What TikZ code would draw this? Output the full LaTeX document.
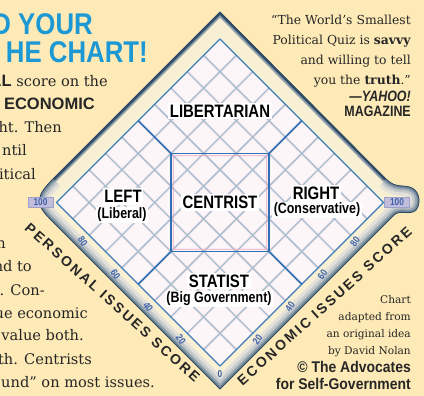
\documentclass[tikz,border=0pt]{standalone}
\usepackage{fontspec}
\setmainfont{DejaVu Serif}
\newfontfamily\condsans[FakeStretch=0.83]{Liberation Sans}
\newfontfamily\titlesans[FakeStretch=0.86]{Liberation Sans}
\newfontfamily\credsans[FakeStretch=0.9]{Liberation Sans}
\newfontfamily\plainsans{Liberation Sans}
\newfontfamily\axissans[LetterSpace=17]{Liberation Sans}
\newcommand{\myfs}[1]{\fontsize{#1}{#1}\selectfont}
\definecolor{bgc}{HTML}{FDEAB7}
\definecolor{cream}{HTML}{F8F0D4}
\definecolor{gridbg}{HTML}{FCF6F8}
\definecolor{gridc}{HTML}{A2BECE}
\definecolor{halo}{HTML}{F6E3EB}
\definecolor{gedge}{HTML}{3F7DB6}
\definecolor{divblue}{HTML}{2F6FB3}
\definecolor{pinkl}{HTML}{E8A3C0}
\definecolor{navy}{HTML}{2E4A64}
\definecolor{titleblue}{HTML}{1C98D5}
\definecolor{txt}{HTML}{262626}
\definecolor{numblue}{HTML}{3C62AA}
\definecolor{lav}{HTML}{C3BCDA}
\definecolor{bevA}{HTML}{E2E0D8}
\definecolor{bevB}{HTML}{C4C9CC}
\definecolor{bevC}{HTML}{9CA9B4}
\definecolor{bevD}{HTML}{6D8294}
\begin{document}
\begin{tikzpicture}[x=1pt,y=-1pt, line join=round,
  body/.style={font=\myfs{14.6}, text=txt, inner sep=0pt, anchor=base east},
  quote/.style={font=\myfs{12.4}, text=txt, inner sep=0pt, anchor=base east},
  cred/.style={font=\myfs{10.6}, text=txt, inner sep=0pt, anchor=base east},
  credb/.style={font=\credsans\bfseries\myfs{15.5}, text=txt, inner sep=0pt, anchor=base east},
  magb/.style={font=\condsans\bfseries\myfs{15}, text=txt, inner sep=0pt, anchor=base east},
  titl/.style={font=\titlesans\bfseries\myfs{30}, text=titleblue, inner sep=0pt, anchor=base east},
  mainlab/.style={font=\condsans\bfseries\myfs{18}, text=black, fill=white, inner xsep=1.5pt, inner ysep=2pt},
  sublab/.style={font=\condsans\bfseries\myfs{15}, text=black, fill=white, inner xsep=1.5pt, inner ysep=1pt},
  axislab/.style={font=\axissans\bfseries\myfs{14}, text=txt, inner sep=0pt},
  numlab/.style={font=\condsans\bfseries\myfs{10}, text=numblue, inner sep=0.3pt},
  hundred/.style={numlab, fill=lav, draw=lav!70!numblue, line width=0.4pt, minimum width=25pt, minimum height=10pt, inner sep=0pt},
  gridline/.style={line width=1.2pt, draw=gridc},
  gridhalo/.style={line width=2.6pt, draw=halo},
  gedgest/.style={line width=1.4pt, draw=gedge},
  divline/.style={line width=1.6pt, draw=divblue},
  sqpink/.style={line width=0.9pt, draw=pinkl}
]
\fill[bgc] (0,0) rectangle (424,396);
\useasboundingbox (0,0) rectangle (424,396);
\clip (0,0) rectangle (424,396);

% ---- frame ----
\fill[cream] (220,12) -- (53,179) .. controls (37,195) and (34,203) .. (50,219) -- (220,389) -- (394,215) .. controls (400,209) and (410,216) .. (416,210) .. controls (421,204) and (420,192) .. (412,188) .. controls (404,184) and (396,189) .. (386,179) -- cycle;
\begin{scope}
  \clip (220,12) -- (53,179) .. controls (37,195) and (34,203) .. (50,219) -- (220,389) -- (394,215) .. controls (400,209) and (410,216) .. (416,210) .. controls (421,204) and (420,192) .. (412,188) .. controls (404,184) and (396,189) .. (386,179) -- cycle;
  \draw[line width=20pt, bevA] (53,179) .. controls (37,195) and (34,203) .. (50,219) -- (220,389) -- (394,215) .. controls (400,209) and (410,216) .. (416,210) .. controls (421,204) and (420,192) .. (412,188) .. controls (404,184) and (396,189) .. (386,179);
  \draw[line width=13pt, bevB] (53,179) .. controls (37,195) and (34,203) .. (50,219) -- (220,389) -- (394,215) .. controls (400,209) and (410,216) .. (416,210) .. controls (421,204) and (420,192) .. (412,188) .. controls (404,184) and (396,189) .. (386,179);
  \draw[line width=8pt, bevC] (53,179) .. controls (37,195) and (34,203) .. (50,219) -- (220,389) -- (394,215) .. controls (400,209) and (410,216) .. (416,210) .. controls (421,204) and (420,192) .. (412,188) .. controls (404,184) and (396,189) .. (386,179);
  \draw[line width=4pt, bevD] (53,179) .. controls (37,195) and (34,203) .. (50,219) -- (220,389) -- (394,215) .. controls (400,209) and (410,216) .. (416,210) .. controls (421,204) and (420,192) .. (412,188) .. controls (404,184) and (396,189) .. (386,179);
  \draw[line width=8pt, navy!55] (53,179) -- (220,12) -- (386,179);
  \draw[line width=4pt, navy] (53,179) -- (220,12) -- (386,179);
\end{scope}
\draw[line width=0.8pt, navy] (220,12) -- (53,179) .. controls (37,195) and (34,203) .. (50,219) -- (220,389) -- (394,215) .. controls (400,209) and (410,216) .. (416,210) .. controls (421,204) and (420,192) .. (412,188) .. controls (404,184) and (396,189) .. (386,179) -- cycle;

% ---- grid ----
\begin{scope}[shift={(220,366)}, x={(1.635pt,1.635pt)}, y={(-1.635pt,1.635pt)}]
  \fill[gridbg] (0,0) coordinate (gB) -- (100,0) coordinate (gR) -- (100,100) coordinate (gT) -- (0,100) coordinate (gL) -- cycle;
  \foreach \i in {10,20,...,90} {
    \draw[gridhalo] (\i,0) -- (\i,100);
    \draw[gridhalo] (0,\i) -- (100,\i);
  }
  \foreach \i in {10,20,...,90} {
    \draw[gridline] (\i,0) -- (\i,100);
    \draw[gridline] (0,\i) -- (100,\i);
  }
  \draw[gedgest] (gB) -- (gR) -- (gT) -- (gL) -- cycle;
  \coordinate (c1) at (50,80);
  \coordinate (c2) at (80,50);
  \coordinate (c3) at (50,20);
  \coordinate (c4) at (20,50);
  \coordinate (m1) at (50,100);
  \coordinate (m2) at (100,50);
  \coordinate (m3) at (50,0);
  \coordinate (m4) at (0,50);
  \draw[sqpink] (50,78.6) -- (78.6,50) -- (50,21.4) -- (21.4,50) -- cycle;
  \draw[divline] (c1) -- (m1);
  \draw[divline] (c2) -- (m2);
  \draw[divline] (c3) -- (m3);
  \draw[divline] (c4) -- (m4);
  \draw[divline] (c1) -- (c2) -- (c3) -- (c4) -- cycle;
\end{scope}

% ---- chart labels ----
\node[mainlab] (lib) at (220,111) {LIBERTARIAN};
\node[mainlab] (cen) at (220,202.5) {CENTRIST};
\node[mainlab] (lft) at (123,196.5) {LEFT};
\node[sublab] (lftb) at (122,215) {(Liberal)};
\node[mainlab] (rgt) at (316,193.5) {RIGHT};
\node[sublab] (rgtb) at (317,210) {(Conservative)};
\node[mainlab] (sta) at (219,281) {STATIST};
\node[sublab] (stab) at (219,299) {(Big Government)};

% ---- scale numbers ----
\node[hundred] (p100) at (40.5,202) {100};
\node[hundred] (e100) at (397,202) {100};
\node[numlab, rotate=-55] (p80) at (82.8,241.6) {80};
\node[numlab, rotate=-55] (p60) at (115.5,274.3) {60};
\node[numlab, rotate=-55] (p40) at (148.2,307.0) {40};
\node[numlab, rotate=-55] (p20) at (180.9,339.7) {20};
\node[numlab, rotate=55] (e80) at (355,241.6) {80};
\node[numlab, rotate=55] (e60) at (322.5,274.3) {60};
\node[numlab, rotate=55] (e40) at (290,307.0) {40};
\node[numlab, rotate=55] (e20) at (257.5,339.7) {20};
\node[numlab] (z0) at (220,374) {0};

% ---- axis titles ----
\node[axislab, rotate=-42] (axp) at (112.5,302.5) {PERSONAL ISSUES SCORE};
\node[axislab, rotate=42] (axe) at (324.5,306) {ECONOMIC ISSUES SCORE};

% ---- title ----
\node[titl] (t1) at (93,35) {D YOUR};
\node[titl] (t2) at (148,63) {HE CHART!};

% ---- left text ----
\node[body] (l1) at (108,87) {{\plainsans\bfseries\myfs{16.5}AL} score on the};
\node[body, font=\plainsans\bfseries\myfs{16.5}] (l2) at (95,110) {ECONOMIC};
\node[body] (l3) at (62,133) {ht. Then};
\node[body] (l4) at (27,156) {ntil};
\node[body] (l5) at (36,179) {itical};
\node[body] (l6) at (6,249) {n};
\node[body] (l7) at (32,272) {nd to};
\node[body] (l8) at (45,295) {m. Con-};
\node[body] (l9) at (88,318) {ue economic};
\node[body] (l10) at (84,341) {value both.};
\node[body] (l11) at (92,364) {oth. Centrists};
\node[body] (l12) at (155,387) {und” on most issues.};

% ---- quote ----
\node[quote] (q1) at (411,25) {“The World’s Smallest};
\node[quote] (q2) at (411,45) {Political Quiz is \textbf{savvy}};
\node[quote] (q3) at (411,65) {and willing to tell};
\node[quote] (q4) at (411,85) {you the \textbf{truth}.”};
\node[magb] (q5) at (411,102) {—\textit{YAHOO!}};
\node[magb] (q6) at (411,117) {MAGAZINE};

% ---- credits ----
\node[cred] (k1) at (411,303) {Chart};
\node[cred] (k2) at (411,320.3) {adapted from};
\node[cred] (k3) at (411,337.6) {an original idea};
\node[cred] (k4) at (411,355) {by David Nolan};
\node[credb] (k5) at (411,373) {© The Advocates};
\node[credb] (k6) at (411,389) {for Self-Government};
\end{tikzpicture}
\end{document}
